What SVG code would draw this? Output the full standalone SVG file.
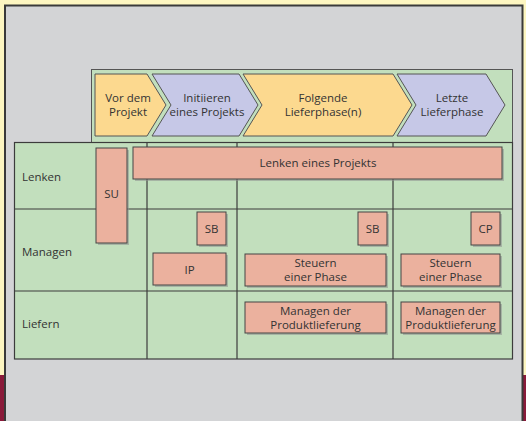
<svg xmlns="http://www.w3.org/2000/svg" width="526" height="421" viewBox="0 0 526 421">
<style>
.t{font-family:"Open Sans","Noto Sans",sans-serif;font-size:11.5px;fill:#333;}
.m{text-anchor:middle;}
.box{fill:#ebb19e;stroke:#444;stroke-width:1;}
.sh{fill:#8f8f8f;opacity:0.55;}
.cy{fill:#fcd98f;stroke:#555;stroke-width:1;}
.cb{fill:#c6c8e7;stroke:#555;stroke-width:1;}
.ln{stroke:#3c3c3c;stroke-width:1.2;fill:none;}
</style>
<rect x="0" y="0" width="526" height="421" fill="#fdf6c1"/>
<rect x="0" y="375" width="4" height="46" fill="#8a1a3a"/>
<rect x="523" y="375" width="3" height="46" fill="#8a1a3a"/>
<rect x="5" y="5.5" width="517.5" height="420" fill="#d3d4d6" stroke="#3a3a3a" stroke-width="2"/>

<!-- header and grid backgrounds -->
<rect x="91.5" y="69.5" width="421" height="73" fill="#c2dfbd" stroke="#555" stroke-width="1"/>
<rect x="14.5" y="142.5" width="498" height="216.5" fill="#c2dfbd"/>

<g id="connectors">
<rect x="14.5" y="142.5" width="498" height="216.5" class="ln"/>
<line x1="14.5" y1="209" x2="512.5" y2="209" class="ln"/>
<line x1="14.5" y1="291" x2="512.5" y2="291" class="ln"/>
<line x1="147" y1="142.5" x2="147" y2="359" class="ln"/>
<line x1="237" y1="142.5" x2="237" y2="359" class="ln"/>
<line x1="393" y1="142.5" x2="393" y2="359" class="ln"/>
</g>

<g id="phase1">
<polygon class="cy" points="95,74 147,74 166,105 147,136 95,136"/>
<text class="t m" x="128" y="102">Vor dem</text>
<text class="t m" x="128" y="116">Projekt</text>
</g>
<g id="phase2">
<polygon class="cb" points="152,74 239,74 258,105 239,136 152,136 171,105"/>
<text class="t m" x="207" y="102">Initiieren</text>
<text class="t m" x="207" y="116">eines Projekts</text>
</g>
<g id="phase3">
<polygon class="cy" points="243,74 393,74 412,105 393,136 243,136 262,105"/>
<text class="t m" x="323" y="102">Folgende</text>
<text class="t m" x="323" y="116">Lieferphase(n)</text>
</g>
<g id="phase4">
<polygon class="cb" points="397,74 486,74 505,105 486,136 397,136 416,105"/>
<text class="t m" x="452" y="102">Letzte</text>
<text class="t m" x="452" y="116">Lieferphase</text>
</g>

<g id="row-lenken"><text class="t" x="22" y="181">Lenken</text></g>
<g id="row-managen"><text class="t" x="22" y="256">Managen</text></g>
<g id="row-liefern"><text class="t" x="22" y="328">Liefern</text></g>

<g id="su">
<rect class="sh" x="98" y="150" width="31" height="95"/>
<rect class="box" x="96" y="148" width="31" height="95"/>
<text class="t m" x="111.5" y="198">SU</text>
</g>
<g id="lenken-projekt">
<rect class="sh" x="135" y="149" width="369" height="32"/>
<rect class="box" x="133" y="147" width="369" height="32"/>
<text class="t m" x="318" y="167">Lenken eines Projekts</text>
</g>
<g id="sb1">
<rect class="sh" x="199" y="214" width="29" height="33"/>
<rect class="box" x="197" y="212" width="29" height="33"/>
<text class="t m" x="211.5" y="232.5">SB</text>
</g>
<g id="sb2">
<rect class="sh" x="360" y="214" width="29" height="33"/>
<rect class="box" x="358" y="212" width="29" height="33"/>
<text class="t m" x="372.5" y="232.5">SB</text>
</g>
<g id="cp">
<rect class="sh" x="473" y="214" width="29" height="33"/>
<rect class="box" x="471" y="212" width="29" height="33"/>
<text class="t m" x="485.5" y="232.5">CP</text>
</g>
<g id="ip">
<rect class="sh" x="155" y="255" width="73" height="32"/>
<rect class="box" x="153" y="253" width="73" height="32"/>
<text class="t m" x="189.5" y="273.5">IP</text>
</g>
<g id="steuern1">
<rect class="sh" x="247" y="256" width="141" height="32"/>
<rect class="box" x="245" y="254" width="141" height="32"/>
<text class="t m" x="315.5" y="267">Steuern</text>
<text class="t m" x="315.5" y="281">einer Phase</text>
</g>
<g id="steuern2">
<rect class="sh" x="403" y="256" width="99" height="32"/>
<rect class="box" x="401" y="254" width="99" height="32"/>
<text class="t m" x="450.5" y="267">Steuern</text>
<text class="t m" x="450.5" y="281">einer Phase</text>
</g>
<g id="managen1">
<rect class="sh" x="247" y="304" width="141" height="31"/>
<rect class="box" x="245" y="302" width="141" height="31"/>
<text class="t m" x="315.5" y="315">Managen der</text>
<text class="t m" x="315.5" y="329">Produktlieferung</text>
</g>
<g id="managen2">
<rect class="sh" x="403" y="304" width="99" height="31"/>
<rect class="box" x="401" y="302" width="99" height="31"/>
<text class="t m" x="450.5" y="315">Managen der</text>
<text class="t m" x="450.5" y="329">Produktlieferung</text>
</g>
</svg>
